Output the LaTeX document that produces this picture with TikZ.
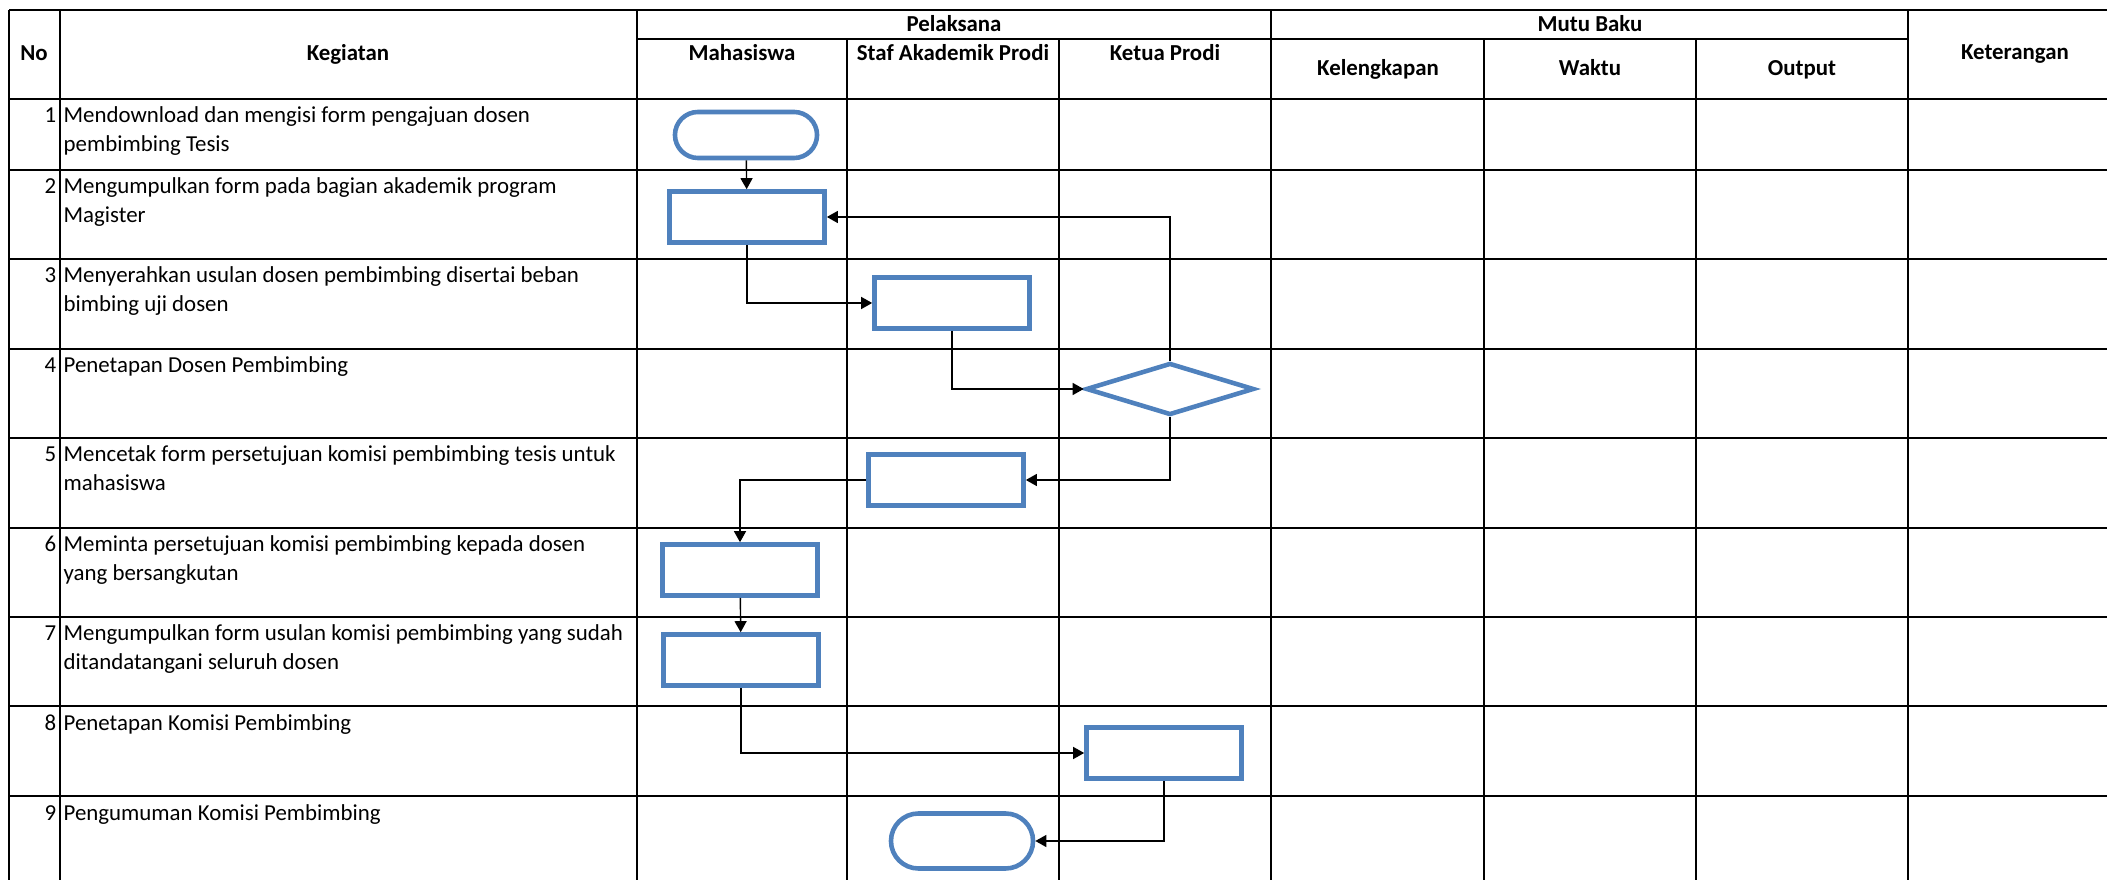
\documentclass[tikz,border=0pt]{standalone}
\usepackage{fontspec}
\setmainfont{Carlito}
\usetikzlibrary{arrows.meta,shapes.geometric}
\definecolor{flowblue}{HTML}{4F81BD}
\newcommand{\tabfont}{\fontsize{6.5pt}{8.25pt}\selectfont}
\tikzset{
  grid/.style={line width=0.8pt},
  proc/.style={draw=flowblue,line width=1.3pt,minimum width=1.55cm,minimum height=0.51cm,inner sep=0pt},
  term/.style={draw=flowblue,line width=1.3pt,rounded corners=2.3mm,minimum width=1.42cm,minimum height=0.46cm,inner sep=0pt},
  dec/.style={draw=flowblue,line width=1.3pt,diamond,minimum width=1.68cm,minimum height=0.52cm,inner sep=0pt},
  flow/.style={-{Triangle[length=1.1mm,width=1.2mm]},line width=0.4pt},
  hd/.style={font=\tabfont\bfseries,anchor=base,inner sep=0pt},
  act/.style={font=\tabfont,anchor=base west,align=left,inner sep=0pt},
  num/.style={font=\tabfont,anchor=base east,inner sep=0pt}
}
\begin{document}
\begin{tikzpicture}[x=0.01cm,y=-0.01cm]
      \useasboundingbox (0,0) rectangle (2107,880);
      \clip (0,0) rectangle (2107,880);
      % table
      \begin{scope}[grid]
        \draw (9,10) -- (2107,10);
        \draw (637,39) -- (1908,39);
        \draw (9,99) -- (2107,99);
        \draw (9,170) -- (2107,170);
        \draw (9,259) -- (2107,259);
        \draw (9,349) -- (2107,349);
        \draw (9,438) -- (2107,438);
        \draw (9,528) -- (2107,528);
        \draw (9,617) -- (2107,617);
        \draw (9,706) -- (2107,706);
        \draw (9,796) -- (2107,796);
        \draw (9,10) -- (9,880);
        \draw (60,10) -- (60,880);
        \draw (637,10) -- (637,880);
        \draw (847,39) -- (847,880);
        \draw (1059,39) -- (1059,880);
        \draw (1271,10) -- (1271,880);
        \draw (1484,39) -- (1484,880);
        \draw (1696,39) -- (1696,880);
        \draw (1908,10) -- (1908,880);
      \end{scope}
      % header
      \node[hd] (no) at (34,61) {No};
      \node[hd] (keg) at (348,61) {Kegiatan};
      \node[hd] (pel) at (954,32) {Pelaksana};
      \node[hd] (mhs) at (742,61) {Mahasiswa};
      \node[hd] (staf) at (953,61) {Staf Akademik Prodi};
      \node[hd] (ketua) at (1165,61) {Ketua Prodi};
      \node[hd] (mutu) at (1590,32) {Mutu Baku};
      \node[hd] (kel) at (1378,76) {Kelengkapan};
      \node[hd] (wkt) at (1590,76) {Waktu};
      \node[hd] (out) at (1802,76) {Output};
      \node[hd] (ket) at (2015,60) {Keterangan};
      % rows (base of a two-line cell is its second line)
      \node[num] (n1) at (57,123) {1};
      \node[act] (k1) at (63,152) {Mendownload dan mengisi form pengajuan dosen\\pembimbing Tesis};
      \node[num] (n2) at (57,194) {2};
      \node[act] (k2) at (63,223) {Mengumpulkan form pada bagian akademik program\\Magister};
      \node[num] (n3) at (57,283) {3};
      \node[act] (k3) at (63,312) {Menyerahkan usulan dosen pembimbing disertai beban\\bimbing uji dosen};
      \node[num] (n4) at (57,373) {4};
      \node[act] (k4) at (63,373) {Penetapan Dosen Pembimbing};
      \node[num] (n5) at (57,462) {5};
      \node[act] (k5) at (63,491) {Mencetak form persetujuan komisi pembimbing tesis untuk\\mahasiswa};
      \node[num] (n6) at (57,552) {6};
      \node[act] (k6) at (63,581) {Meminta persetujuan komisi pembimbing kepada dosen\\yang bersangkutan};
      \node[num] (n7) at (57,641) {7};
      \node[act] (k7) at (63,670) {Mengumpulkan form usulan komisi pembimbing yang sudah\\ditandatangani seluruh dosen};
      \node[num] (n8) at (57,730) {8};
      \node[act] (k8) at (63,730) {Penetapan Komisi Pembimbing};
      \node[num] (n9) at (57,820) {9};
      \node[act] (k9) at (63,820) {Pengumuman Komisi Pembimbing};
      % flow
      \draw
        (746,135) node[term] (t1){}
        (747,217) node[proc] (b2){}
        (952,303) node[proc] (b3){}
        (1170,389) node[dec] (d4){}
        (946,480) node[proc] (b5){}
        (740,570) node[proc] (b6){}
        (741,660) node[proc] (b7){}
        (1164,753) node[proc] (b8){}
        (962,841) node[term,minimum height=0.55cm,rounded corners=2.75mm] (t9){};
      \begin{scope}[flow]
        \draw (t1) -- (b2);
        \draw (b2.south) |- (b3.west);
        \draw (b3.south) |- (d4.west);
        \draw (d4.north) |- (b2.east);
        \draw (d4.south) |- (b5.east);
        \draw (b5.west) -| (b6.north);
        \draw (b6) -- (b7);
        \draw (b7.south) |- (b8.west);
        \draw (b8.south) |- (t9.east);
      \end{scope}
    \end{tikzpicture}
\end{document}
